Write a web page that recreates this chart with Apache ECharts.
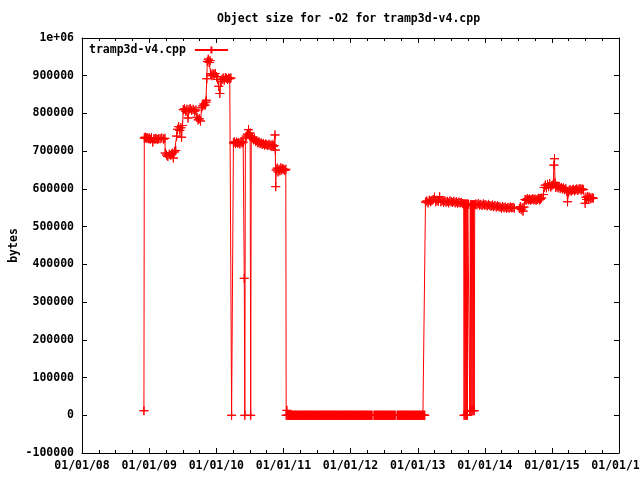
<!DOCTYPE html>
<html>
<head>
<meta charset="utf-8">
<title>Object size for -O2 for tramp3d-v4.cpp</title>
<script src="https://cdn.jsdelivr.net/npm/echarts@6/dist/echarts.min.js"></script>
<style>
html, body { margin: 0; padding: 0; background: #fff; }
#chart { width: 640px; height: 480px; }
</style>
</head>
<body>
<div id="chart"></div>
<script>
// object size (bytes) per build date
var points2009 = [
    ['2008-12-03', 12000], ['2008-12-05', 735000], ['2008-12-10', 737000], ['2008-12-15', 734000],
    ['2008-12-20', 736000], ['2008-12-26', 733000], ['2009-01-01', 735000], ['2009-01-07', 731000],
    ['2009-01-13', 736000], ['2009-01-20', 724000], ['2009-01-26', 733000], ['2009-02-01', 732000],
    ['2009-02-07', 734000], ['2009-02-14', 731000], ['2009-02-21', 733000], ['2009-03-01', 733000],
    ['2009-03-10', 735000], ['2009-03-19', 732000], ['2009-03-27', 734000], ['2009-03-29', 695000],
    ['2009-04-05', 690000], ['2009-04-12', 686000], ['2009-04-20', 692000], ['2009-04-28', 689000],
    ['2009-05-06', 695000], ['2009-05-12', 682000], ['2009-05-18', 698000], ['2009-05-25', 702000],
    ['2009-05-30', 740000], ['2009-06-04', 758000], ['2009-06-10', 765000], ['2009-06-16', 755000],
    ['2009-06-22', 762000], ['2009-06-26', 737000], ['2009-07-01', 768000], ['2009-07-05', 810000],
    ['2009-07-12', 812000], ['2009-07-18', 806000], ['2009-07-25', 811000], ['2009-07-31', 788000],
    ['2009-08-05', 810000], ['2009-08-12', 813000], ['2009-08-20', 808000], ['2009-08-28', 811000],
    ['2009-09-05', 806000], ['2009-09-12', 809000], ['2009-09-18', 790000], ['2009-09-24', 783000],
    ['2009-09-30', 786000], ['2009-10-07', 780000], ['2009-10-13', 815000], ['2009-10-19', 820000],
    ['2009-10-25', 825000], ['2009-10-31', 822000], ['2009-11-05', 830000], ['2009-11-08', 835000],
    ['2009-11-10', 892000], ['2009-11-13', 938000], ['2009-11-18', 944000], ['2009-11-23', 935000],
    ['2009-11-28', 940000], ['2009-12-02', 905000], ['2009-12-08', 900000], ['2009-12-14', 905000],
    ['2009-12-20', 902000], ['2009-12-26', 906000], ['2010-01-02', 898000], ['2010-01-08', 890000],
    ['2010-01-14', 872000], ['2010-01-20', 853000], ['2010-01-26', 885000], ['2010-02-01', 890000],
    ['2010-02-07', 894000], ['2010-02-13', 888000], ['2010-02-19', 895000], ['2010-02-25', 893000],
    ['2010-03-03', 890000], ['2010-03-09', 894000], ['2010-03-15', 892000], ['2010-03-21', 894000],
    ['2010-03-25', 0], ['2010-04-04', 722000]
];

var points2010 = [
    ['2010-04-09', 725000], ['2010-04-15', 720000], ['2010-04-21', 724000], ['2010-04-27', 721000],
    ['2010-05-03', 723000], ['2010-05-09', 719000], ['2010-05-15', 725000], ['2010-05-21', 722000],
    ['2010-05-27', 724000], ['2010-06-02', 363000], ['2010-06-05', 0], ['2010-06-08', 735000],
    ['2010-06-13', 740000], ['2010-06-19', 745000], ['2010-06-25', 757000], ['2010-06-30', 742000],
    ['2010-07-04', 748000], ['2010-07-07', 0], ['2010-07-10', 738000], ['2010-07-16', 735000],
    ['2010-07-22', 730000], ['2010-07-28', 733000], ['2010-08-03', 726000], ['2010-08-09', 728000],
    ['2010-08-15', 722000], ['2010-08-21', 725000], ['2010-08-27', 720000], ['2010-09-02', 722000],
    ['2010-09-08', 718000], ['2010-09-14', 720000], ['2010-09-20', 716000], ['2010-09-26', 719000],
    ['2010-10-02', 717000], ['2010-10-08', 715000], ['2010-10-14', 718000], ['2010-10-20', 716000],
    ['2010-10-26', 714000], ['2010-11-01', 717000], ['2010-11-07', 713000], ['2010-11-12', 715000],
    ['2010-11-16', 743000], ['2010-11-18', 703000], ['2010-11-20', 606000], ['2010-11-23', 650000],
    ['2010-11-28', 655000], ['2010-12-03', 645000], ['2010-12-08', 652000], ['2010-12-13', 648000],
    ['2010-12-18', 656000], ['2010-12-23', 650000], ['2010-12-28', 654000], ['2011-01-03', 652000],
    ['2011-01-09', 649000], ['2011-01-14', 652000], ['2011-01-16', 0], ['2011-01-20', 13000],
    ['2011-01-24', 0]
];

// builds that produced an empty object file (size 0): month, days of month
var zeroRuns = [
    ['2011-01', [28]],
    ['2011-02', [1, 4, 8, 11, 15, 18, 22, 25]],
    ['2011-03', [1, 4, 8, 11, 15, 18, 22, 25, 29]],
    ['2011-04', [1, 5, 8, 12, 15, 19, 22, 26, 29]],
    ['2011-05', [3, 6, 10, 13, 17, 20, 24, 27, 31]],
    ['2011-06', [3, 7, 10, 14, 17, 21, 24, 28]],
    ['2011-07', [1, 5, 8, 12, 15, 19, 22, 26, 29]],
    ['2011-08', [2, 5, 9, 12, 16, 19, 23, 26, 30]],
    ['2011-09', [2, 6, 9, 13, 16, 20, 23, 27, 30]],
    ['2011-10', [4, 7, 11, 14, 18, 21, 25, 28]],
    ['2011-11', [1, 4, 8, 11, 15, 18, 22, 25, 29]],
    ['2011-12', [2, 6, 9, 13, 16, 20, 23, 27, 30]],
    ['2012-01', [3, 6, 10, 13, 17, 20, 24, 27, 31]],
    ['2012-02', [3, 7, 10, 14, 17, 21, 24, 28]],
    ['2012-03', [2, 6, 9, 13, 16, 20, 23, 27, 30]],
    ['2012-04', [3, 6, 10, 13, 17, 20, 24, 27]],
    ['2012-05', [8, 11, 15, 18, 22, 25, 29]],
    ['2012-06', [1, 5, 8, 12, 15, 19, 22, 26, 29]],
    ['2012-07', [3, 6, 10, 13, 17, 20, 24, 27, 31]],
    ['2012-08', [3, 7, 10, 14, 17, 21, 24, 28, 31]],
    ['2012-09', [11, 14, 18, 21, 25, 28]],
    ['2012-10', [2, 5, 9, 12, 16, 19, 23, 26, 30]],
    ['2012-11', [2, 6, 9, 13, 16, 20, 23, 27, 30]],
    ['2012-12', [4, 7, 11, 14, 18, 21, 25, 28]],
    ['2013-01', [1, 4, 8, 11, 15, 18, 22, 25, 29]],
    ['2013-02', [1, 5, 8]]
];

var points2013 = [
    ['2013-02-12', 565000], ['2013-02-19', 568000], ['2013-02-26', 563000], ['2013-03-05', 570000],
    ['2013-03-12', 566000], ['2013-03-19', 569000], ['2013-03-26', 572000], ['2013-04-02', 578000],
    ['2013-04-09', 566000], ['2013-04-16', 570000], ['2013-04-23', 567000], ['2013-04-30', 579000],
    ['2013-05-07', 566000], ['2013-05-14', 569000], ['2013-05-21', 564000], ['2013-05-28', 568000],
    ['2013-06-04', 565000], ['2013-06-11', 567000], ['2013-06-18', 563000], ['2013-06-25', 568000],
    ['2013-07-02', 566000], ['2013-07-09', 564000], ['2013-07-16', 567000], ['2013-07-23', 563000],
    ['2013-07-30', 566000], ['2013-08-06', 562000], ['2013-08-13', 565000], ['2013-08-20', 563000],
    ['2013-08-27', 564000], ['2013-09-03', 561000], ['2013-09-08', 560000], ['2013-09-10', 0],
    ['2013-09-13', 560000], ['2013-09-16', 0], ['2013-09-19', 560000], ['2013-09-22', 0],
    ['2013-09-25', 560000], ['2013-09-28', 0], ['2013-09-30', 560000], ['2013-10-04', 559000],
    ['2013-10-11', 12000], ['2013-10-14', 558000], ['2013-10-17', 12000], ['2013-10-20', 558000],
    ['2013-10-23', 12000], ['2013-10-26', 558000], ['2013-10-29', 12000], ['2013-11-01', 558000],
    ['2013-11-04', 12000], ['2013-11-07', 558000], ['2013-11-12', 560000], ['2013-11-19', 558000],
    ['2013-11-26', 561000], ['2013-12-03', 557000], ['2013-12-10', 559000], ['2013-12-17', 556000],
    ['2013-12-24', 560000], ['2013-12-31', 557000], ['2014-01-07', 558000], ['2014-01-14', 555000],
    ['2014-01-21', 559000], ['2014-01-28', 556000], ['2014-02-04', 554000], ['2014-02-11', 557000],
    ['2014-02-18', 553000], ['2014-02-25', 556000], ['2014-03-04', 552000], ['2014-03-11', 555000],
    ['2014-03-18', 553000], ['2014-03-25', 552000], ['2014-04-01', 549000], ['2014-04-08', 553000],
    ['2014-04-15', 550000], ['2014-04-22', 552000], ['2014-04-29', 548000], ['2014-05-06', 551000],
    ['2014-05-13', 549000], ['2014-05-20', 552000], ['2014-05-27', 550000], ['2014-06-03', 551000],
    ['2014-06-10', 549000], ['2014-07-08', 548000], ['2014-07-13', 553000], ['2014-07-18', 545000],
    ['2014-07-23', 550000], ['2014-07-28', 541000], ['2014-08-02', 552000], ['2014-08-08', 572000],
    ['2014-08-14', 570000], ['2014-08-20', 574000], ['2014-08-26', 571000], ['2014-09-01', 573000],
    ['2014-09-07', 570000], ['2014-09-13', 572000], ['2014-09-19', 574000], ['2014-09-25', 571000],
    ['2014-10-01', 573000], ['2014-10-07', 570000], ['2014-10-13', 572000], ['2014-10-19', 575000],
    ['2014-10-25', 571000], ['2014-10-31', 573000], ['2014-11-06', 576000], ['2014-11-16', 585000],
    ['2014-11-20', 604000], ['2014-11-26', 610000], ['2014-12-02', 603000], ['2014-12-08', 612000],
    ['2014-12-14', 606000], ['2014-12-20', 614000], ['2014-12-26', 605000], ['2015-01-01', 609000],
    ['2015-01-08', 612000], ['2015-01-12', 663000], ['2015-01-15', 680000], ['2015-01-18', 616000],
    ['2015-01-22', 604000], ['2015-01-28', 608000], ['2015-02-03', 603000], ['2015-02-09', 607000],
    ['2015-02-15', 601000], ['2015-02-21', 604000], ['2015-02-27', 600000], ['2015-03-05', 603000],
    ['2015-03-11', 598000], ['2015-03-17', 601000], ['2015-03-23', 594000], ['2015-03-27', 566000],
    ['2015-03-31', 590000], ['2015-04-04', 595000], ['2015-04-10', 598000], ['2015-04-16', 594000],
    ['2015-04-22', 597000], ['2015-04-28', 599000], ['2015-05-04', 595000], ['2015-05-10', 598000],
    ['2015-05-16', 600000], ['2015-05-22', 596000], ['2015-05-28', 599000], ['2015-06-03', 601000],
    ['2015-06-09', 597000], ['2015-06-15', 600000], ['2015-06-21', 598000], ['2015-07-01', 562000],
    ['2015-07-05', 578000], ['2015-07-10', 572000], ['2015-07-15', 580000], ['2015-07-20', 575000],
    ['2015-07-26', 578000], ['2015-08-01', 574000], ['2015-08-08', 577000], ['2015-08-14', 575000]
];

var xMin = '2008-01-01';
var xMax = '2016-01-01';
var yMin = -100000;
var yMax = 1000000;
var yStep = 100000;

var font = "'DejaVu Sans Mono', monospace";
var cross = 'path://M0,4.5H9M4.5,0V9';

function two(n) {
    return (n < 10 ? '0' : '') + n;
}

var zeroPoints = [];
zeroRuns.forEach(function (run) {
    run[1].forEach(function (day) {
        zeroPoints.push([run[0] + '-' + two(day), 0]);
    });
});

var allPoints = points2009.concat(points2010, zeroPoints, points2013);

function dateLabel(v) {
    var d = new Date(v);
    return two(d.getMonth() + 1) + '/' + two(d.getDate()) + '/' + two(d.getFullYear() % 100);
}

var chart = echarts.init(document.getElementById('chart'), null, { renderer: 'canvas' });

var xBase = {
    type: 'time',
    min: xMin,
    max: xMax,
    splitNumber: 8,
    axisLine: { onZero: false, lineStyle: { color: '#000', width: 1 } },
    axisTick: { inside: true, length: 5, lineStyle: { color: '#000' } },
    minorTick: { show: true, splitNumber: 4, length: 3, lineStyle: { color: '#000' } },
    splitLine: { show: false }
};

var yBase = {
    type: 'value',
    min: yMin,
    max: yMax,
    interval: yStep,
    axisLine: { show: true, onZero: false, lineStyle: { color: '#000', width: 1 } },
    axisTick: { show: true, inside: true, length: 5, lineStyle: { color: '#000' } },
    splitLine: { show: false }
};

var option = {
    animation: false,
    backgroundColor: '#fff',
    title: {
        text: 'Object size for -O2 for tramp3d-v4.cpp',
        left: 217,
        top: 13,
        padding: 0,
        textStyle: { fontFamily: font, fontSize: 11.5, fontWeight: 'bold', color: '#000' }
    },
    legend: {
        data: ['tramp3d-v4.cpp'],
        left: 84,
        top: 39,
        align: 'right',
        itemWidth: 33,
        itemHeight: 9,
        textStyle: { fontFamily: font, fontSize: 11.5, fontWeight: 'bold', color: '#000', padding: [0, 4, 0, 0] }
    },
    grid: { left: 82, right: 21, top: 38, bottom: 27, containLabel: false, outerBoundsMode: 'none' },
    xAxis: [
        Object.assign({}, xBase, {
            position: 'bottom',
            axisLabel: {
                show: true,
                margin: 7,
                showMinLabel: true,
                showMaxLabel: true,
                formatter: dateLabel,
                fontFamily: font,
                fontSize: 11.5,
                fontWeight: 'bold',
                color: '#000'
            }
        }),
        Object.assign({}, xBase, { position: 'top', axisLabel: { show: false } })
    ],
    yAxis: [
        Object.assign({}, yBase, {
            position: 'left',
            name: 'bytes',
            nameLocation: 'middle',
            nameGap: 62,
            nameMoveOverlap: false,
            nameTextStyle: { fontFamily: font, fontSize: 11.5, fontWeight: 'bold', color: '#000' },
            axisLabel: {
                margin: 8,
                formatter: function (v) { return v === 1000000 ? '1e+06' : String(v); },
                fontFamily: font,
                fontSize: 11.5,
                fontWeight: 'bold',
                color: '#000'
            }
        }),
        Object.assign({}, yBase, { position: 'right', axisLabel: { show: false } })
    ],
    series: [{
        name: 'tramp3d-v4.cpp',
        type: 'line',
        xAxisIndex: 0,
        yAxisIndex: 0,
        data: allPoints,
        symbol: cross,
        symbolSize: 9,
        showSymbol: true,
        showAllSymbol: true,
        lineStyle: { color: '#ff0000', width: 1 },
        itemStyle: { color: '#ff0000', borderColor: '#ff0000', borderWidth: 1 },
        emphasis: { disabled: true }
    }, {
        // every sample gets its own cross, drawn on top of the line
        name: 'tramp3d-v4.cpp',
        type: 'scatter',
        xAxisIndex: 0,
        yAxisIndex: 0,
        data: allPoints,
        symbol: cross,
        symbolSize: 9,
        large: false,
        itemStyle: { color: '#ff0000', borderColor: '#ff0000', borderWidth: 1, opacity: 1 },
        emphasis: { disabled: true }
    }]
};

chart.setOption(option);
</script>
</body>
</html>
